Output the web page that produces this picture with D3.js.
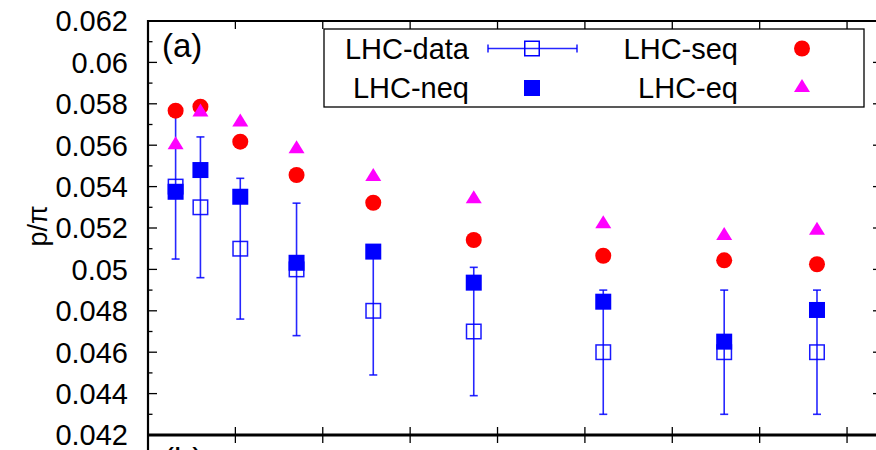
<!DOCTYPE html>
<html>
<head>
<meta charset="utf-8">
<script src="https://cdn.jsdelivr.net/npm/d3@7"></script>
<style>
  html, body { margin: 0; padding: 0; background: #fff; }
  svg { display: block; font-family: "Liberation Sans", Arial, sans-serif; }
</style>
</head>
<body>
<svg id="chart" width="876" height="450"></svg>
<script>
// ---- data ----
const npart   = [15.8, 30.0, 52.8, 85.0, 128.9, 186.4, 260.5, 329.7, 382.8];
const lhcData = [0.054, 0.053, 0.051, 0.050, 0.048, 0.047, 0.046, 0.046, 0.046];
const lhcErr  = [0.0035, 0.0034, 0.0034, 0.0032, 0.0031, 0.0031, 0.0030, 0.0030, 0.0030];
const lhcNeq  = [0.05375, 0.0548, 0.05351, 0.05032, 0.05086, 0.04936, 0.04844, 0.04651, 0.04804];
const lhcSeq  = [0.05767, 0.05786, 0.05617, 0.05456, 0.05322, 0.05142, 0.05066, 0.05044, 0.05025];
const lhcEq   = [0.05612, 0.0577, 0.05722, 0.05593, 0.05459, 0.05351, 0.0523, 0.05174, 0.05199];
const yTicks  = [0.042, 0.044, 0.046, 0.048, 0.05, 0.052, 0.054, 0.056, 0.058, 0.06, 0.062];
const yTickLabels = ["0.042","0.044","0.046","0.048","0.05","0.052","0.054","0.056","0.058","0.06","0.062"];
const yMinor  = [0.043, 0.045, 0.047, 0.049, 0.051, 0.053, 0.055, 0.057, 0.059, 0.061];
const xTicks  = [50, 100, 150, 200, 250, 300, 350, 400];
const legendNames = ["LHC-data", "LHC-neq", "LHC-seq", "LHC-eq"];

const BLUE = "#0000ff", RED = "#ff0000", MAG = "#ff00ff";

const svg = d3.select("#chart");
const x = d3.scaleLinear().domain([0, 420]).range([148, 882]);
const y = d3.scaleLinear().domain([0.042, 0.062]).range([435, 21]);

// ---- frame ----
const frame = svg.append("g");
frame.append("line").attr("x1", x(0)).attr("x2", x(420)).attr("y1", y(0.062)).attr("y2", y(0.062))
  .attr("stroke", "#000").attr("stroke-width", 2);
frame.append("line").attr("x1", x(420)).attr("x2", x(420)).attr("y1", y(0.062)).attr("y2", 450)
  .attr("stroke", "#000").attr("stroke-width", 2);
frame.append("line").attr("x1", x(0)).attr("x2", x(0)).attr("y1", y(0.062)-1).attr("y2", 450)
  .attr("stroke", "#000").attr("stroke-width", 2.2);
frame.append("line").attr("x1", x(0)).attr("x2", x(420)).attr("y1", y(0.042)).attr("y2", y(0.042))
  .attr("stroke", "#000").attr("stroke-width", 3);

// y ticks (left & right, inward)
frame.selectAll(".ymaj").data(yTicks).join("g").each(function(d) {
  const g = d3.select(this);
  g.append("line").attr("x1", x(0)).attr("x2", x(0) + 9).attr("y1", y(d)).attr("y2", y(d)).attr("stroke", "#000").attr("stroke-width", 1.3);
  g.append("line").attr("x1", x(420)).attr("x2", x(420) - 9).attr("y1", y(d)).attr("y2", y(d)).attr("stroke", "#000").attr("stroke-width", 1.3);
});
frame.selectAll(".ymin").data(yMinor).join("g").each(function(d) {
  const g = d3.select(this);
  g.append("line").attr("x1", x(0)).attr("x2", x(0) + 4.5).attr("y1", y(d)).attr("y2", y(d)).attr("stroke", "#000").attr("stroke-width", 1.3);
  g.append("line").attr("x1", x(420)).attr("x2", x(420) - 4.5).attr("y1", y(d)).attr("y2", y(d)).attr("stroke", "#000").attr("stroke-width", 1.3);
});
// y tick labels
svg.selectAll(".ylab").data(yTicks).join("text")
  .attr("x", 128).attr("y", d => y(d)).attr("dy", "0.36em")
  .attr("text-anchor", "end").attr("font-size", 29).attr("fill", "#000")
  .text((d, i) => yTickLabels[i]);

// x ticks: top (down), bottom (up and into lower panel)
frame.selectAll(".xt").data(xTicks).join("g").each(function(d) {
  const g = d3.select(this);
  g.append("line").attr("x1", x(d)).attr("x2", x(d)).attr("y1", y(0.062)).attr("y2", y(0.062) + 8).attr("stroke", "#000").attr("stroke-width", 1.3);
  g.append("line").attr("x1", x(d)).attr("x2", x(d)).attr("y1", y(0.042) - 8).attr("y2", y(0.042) + 8).attr("stroke", "#000").attr("stroke-width", 1.3);
});

// y label
svg.append("text").attr("transform", "translate(47,226) rotate(-90)")
  .attr("text-anchor", "middle").attr("font-size", 27).text("p/π");

// panel labels
svg.append("text").attr("x", 162).attr("y", 57).attr("font-size", 33).text("(a)");
svg.append("text").attr("x", 163).attr("y", 471).attr("font-size", 33).text("(b)");

// ---- data marks ----
const pts = npart.map((n, i) => ({n, d: lhcData[i], e: lhcErr[i], neq: lhcNeq[i], seq: lhcSeq[i], eq: lhcEq[i]}));
const S = 16;

// error bars
const eb = svg.append("g").attr("stroke", BLUE).attr("stroke-width", 1.6).attr("stroke-opacity", 0.85);
pts.forEach(p => {
  eb.append("line").attr("x1", x(p.n)).attr("x2", x(p.n)).attr("y1", y(p.d + p.e)).attr("y2", y(p.d - p.e));
  eb.append("line").attr("x1", x(p.n) - 4).attr("x2", x(p.n) + 4).attr("y1", y(p.d + p.e)).attr("y2", y(p.d + p.e));
  eb.append("line").attr("x1", x(p.n) - 4).attr("x2", x(p.n) + 4).attr("y1", y(p.d - p.e)).attr("y2", y(p.d - p.e));
});
// open squares
svg.append("g").selectAll("rect").data(pts).join("rect")
  .attr("x", p => x(p.n) - S / 2 + 0.75).attr("y", p => y(p.d) - S / 2 + 0.75)
  .attr("width", S - 1.5).attr("height", S - 1.5)
  .attr("fill", "none").attr("stroke", BLUE).attr("stroke-width", 1.5).attr("stroke-opacity", 0.9);
// filled squares (neq)
svg.append("g").selectAll("rect").data(pts).join("rect")
  .attr("x", p => x(p.n) - S / 2).attr("y", p => y(p.neq) - S / 2)
  .attr("width", S).attr("height", S).attr("fill", BLUE);
// circles (seq)
svg.append("g").selectAll("circle").data(pts).join("circle")
  .attr("cx", p => x(p.n)).attr("cy", p => y(p.seq)).attr("r", 8).attr("fill", RED);
// triangles (eq)
const tri = (cx, cy) => `M${cx},${cy - 6.5}L${cx + 8},${cy + 6.5}L${cx - 8},${cy + 6.5}Z`;
svg.append("g").selectAll("path").data(pts).join("path")
  .attr("d", p => tri(x(p.n), y(p.eq))).attr("fill", MAG);

// ---- legend ----
const lg = svg.append("g");
lg.append("rect").attr("x", 324).attr("y", 29).attr("width", 540).attr("height", 78)
  .attr("fill", "#fff").attr("stroke", "#000").attr("stroke-width", 1.3);
const lt = [[469, 59], [469, 98], [738, 59], [738, 98]];
legendNames.forEach((nm, i) => {
  lg.append("text").attr("x", lt[i][0]).attr("y", lt[i][1]).attr("text-anchor", "end")
    .attr("font-size", 29).text(nm);
});
// data symbol
const lgy1 = 48.5, lgy2 = 88;
const le = lg.append("g").attr("stroke", BLUE).attr("stroke-width", 1.6).attr("stroke-opacity", 0.85);
le.append("line").attr("x1", 488).attr("x2", 577).attr("y1", lgy1).attr("y2", lgy1);
le.append("line").attr("x1", 488).attr("x2", 488).attr("y1", lgy1 - 4).attr("y2", lgy1 + 4);
le.append("line").attr("x1", 577).attr("x2", 577).attr("y1", lgy1 - 4).attr("y2", lgy1 + 4);
lg.append("rect").attr("x", 532 - S / 2 + 0.75).attr("y", lgy1 - S / 2 + 0.75).attr("width", S - 1.5).attr("height", S - 1.5)
  .attr("fill", "none").attr("stroke", BLUE).attr("stroke-width", 1.5);
lg.append("rect").attr("x", 532 - S / 2).attr("y", lgy2 - S / 2).attr("width", S).attr("height", S).attr("fill", BLUE);
lg.append("circle").attr("cx", 802).attr("cy", lgy1).attr("r", 8).attr("fill", RED);
lg.append("path").attr("d", tri(802, 85.5)).attr("fill", MAG);
</script>
</body>
</html>
